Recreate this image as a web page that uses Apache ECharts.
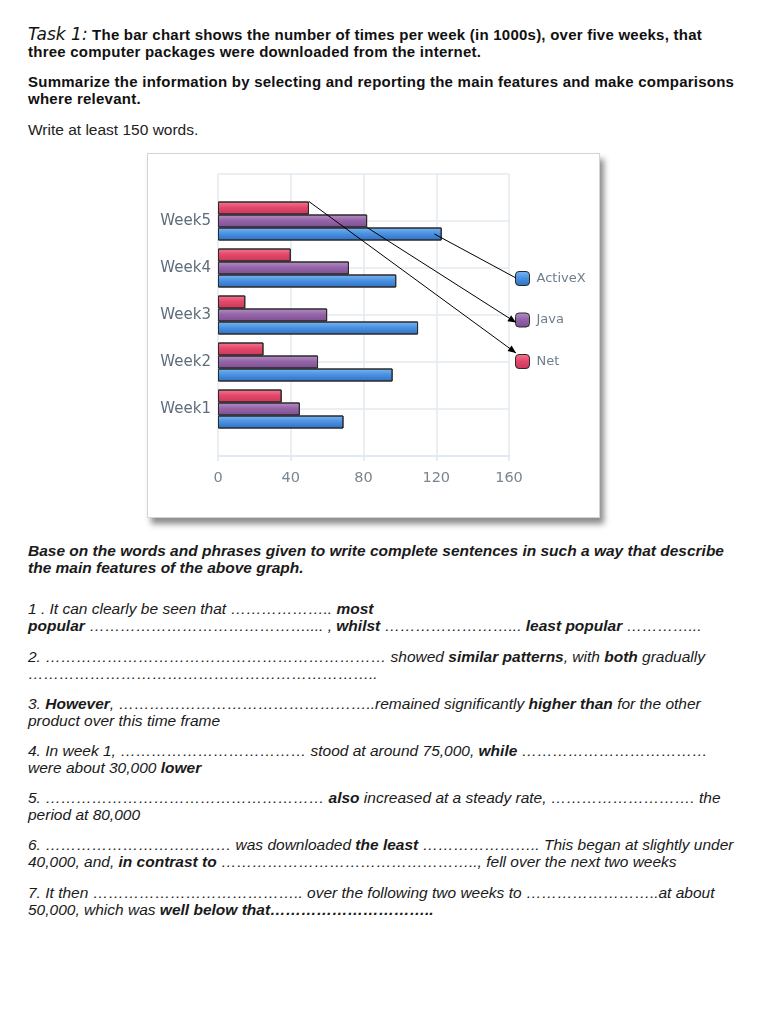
<!DOCTYPE html>
<html>
<head>
<meta charset="utf-8">
<script src="https://cdn.jsdelivr.net/npm/echarts@6/dist/echarts.min.js"></script>
<style>
  html, body { margin: 0; padding: 0; background: #fff; }
  body { width: 768px; height: 1024px; position: relative; overflow: hidden;
         font-family: "Liberation Sans", Arial, sans-serif; color: #111; }
  .p { position: absolute; left: 28px; font-size: 15.5px; line-height: 17px; white-space: nowrap; }
  .h { font-weight: bold; font-size: 15px; letter-spacing: 0.24px; }
  .task { font-family: "DejaVu Sans", sans-serif; font-style: italic; font-weight: normal; font-size: 17px; letter-spacing: 0; }
  .it { font-style: italic; color: #1a1a1a; }
  b { font-weight: bold; }
  #chart { position: absolute; left: 147px; top: 153px; width: 453px; height: 365px;
           border: 1px solid #d4d4d4; box-sizing: border-box; background: #fff;
           box-shadow: 4px 6px 6px rgba(0,0,0,0.45); }
</style>
</head>
<body>
<div class="p h" style="top:26px"><span class="task">Task 1:</span> The bar chart shows the number of times per week (in 1000s), over five weeks, that<br>three computer packages were downloaded from the internet.</div>
<div class="p h" style="top:73px">Summarize the information by selecting and reporting the main features and make comparisons<br>where relevant.</div>
<div class="p" style="top:121px; color:#222">Write at least 150 words.</div>

<div id="chart"></div>

<div class="p it" style="top:542px; font-weight:bold">Base on the words and phrases given to write complete sentences in such a way that describe<br>the main features of the above graph.</div>

<div class="p it" style="top:600px">1 . It can clearly be seen that ……………….. <b>most</b><br><b>popular</b> …………………………………….... , <b>whilst</b> ……………………... <b>least popular</b> …………...</div>
<div class="p it" style="top:648px">2. ………………………………………………………… showed <b>similar patterns</b>, with <b>both</b> gradually<br>…………………………………………………………..</div>
<div class="p it" style="top:695px">3. <b>However</b>, …………………………………………..remained significantly <b>higher than</b> for the other<br>product over this time frame</div>
<div class="p it" style="top:742px">4. In week 1, ……………………………… stood at around 75,000, <b>while</b> ………………………………<br>were about 30,000 <b>lower</b></div>
<div class="p it" style="top:789px">5. ……………………………………………… <b>also</b> increased at a steady rate, ………………………. the<br>period at 80,000</div>
<div class="p it" style="top:836px">6. ……………………………… was downloaded <b>the least</b> ………………….. This began at slightly under<br>40,000, and, <b>in contrast to</b> ………………………………………….., fell over the next two weeks</div>
<div class="p it" style="top:884px">7. It then …………………………………..  over the following two weeks to ……………………..at about<br>50,000, which was <b>well below that…………………………..</b></div>

<script>
// ---- data ----
const weeks = ['Week1', 'Week2', 'Week3', 'Week4', 'Week5'];
const activeX = [69, 96, 110, 98, 123];
const java = [45, 55, 60, 72, 82];
const net = [35, 25, 15, 40, 50];
const xTicks = [0, 40, 80, 120, 160];
const legendNames = ['ActiveX', 'Java', 'Net'];

// ---- chart ----
const chart = echarts.init(document.getElementById('chart'));
const pad = arr => ['-'].concat(arr).concat(['-']);
const axisCats = [''].concat(weeks).concat(['']);
const grad = (a, b, c) => new echarts.graphic.LinearGradient(0, 0, 0, 1, [
  { offset: 0, color: a }, { offset: 0.45, color: b }, { offset: 1, color: c }]);

const GRID = { left: 70, top: 20, width: 291, height: 282 };
const LEG = { left: 367, top: 117, size: 14, gap: 26.5 };

const barCommon = {
  type: 'bar', barWidth: 13, barGap: '0%',
  itemStyle: { borderColor: '#2a2a2a', borderWidth: 1 },
  emphasis: { disabled: true }
};

chart.setOption({
  animation: false,
  textStyle: { fontFamily: 'DejaVu Sans, sans-serif' },
  grid: GRID,
  legend: {
    data: legendNames, orient: 'vertical', left: LEG.left, top: LEG.top, padding: 0,
    itemWidth: LEG.size, itemHeight: LEG.size, itemGap: LEG.gap, icon: 'roundRect',
    textStyle: { color: '#6f7d8a', fontSize: 13, padding: [0, 0, 0, 2] },
    itemStyle: { borderColor: '#2a2a2a', borderWidth: 1 }
  },
  xAxis: {
    type: 'value', min: xTicks[0], max: xTicks[xTicks.length - 1], interval: xTicks[1] - xTicks[0],
    axisLine: { show: true, lineStyle: { color: '#dfe7ee', width: 1.5 } },
    axisTick: { show: true, length: 5, lineStyle: { color: '#dfe7ee', width: 1.5 } },
    axisLabel: { color: '#7a8591', fontSize: 14.5, margin: 15 },
    splitLine: { show: true, lineStyle: { color: '#e3eaf0', width: 1.5 } }
  },
  yAxis: {
    type: 'category', data: axisCats, boundaryGap: false,
    axisLine: { show: false }, axisTick: { show: false },
    axisLabel: { color: '#5e6d7b', fontSize: 15, margin: 7 },
    splitLine: { show: true, lineStyle: { color: '#e3eaf0', width: 1.5 } }
  },
  series: [
    Object.assign({}, barCommon, { name: 'Net', data: pad(net),
      itemStyle: Object.assign({}, barCommon.itemStyle, { color: grad('#f47a92', '#e5486b', '#c8385a') }) }),
    Object.assign({}, barCommon, { name: 'Java', data: pad(java),
      itemStyle: Object.assign({}, barCommon.itemStyle, { color: grad('#b690c6', '#9565a8', '#7c4f92') }) }),
    Object.assign({}, barCommon, { name: 'ActiveX', data: pad(activeX),
      itemStyle: Object.assign({}, barCommon.itemStyle, { color: grad('#7cb6f2', '#4b93e3', '#2f6fc2') }) })
  ]
});

// ---- annotation arrows from week-5 bar ends to the legend icons ----
const last = weeks.length - 1;
function barEnd(value, offset) {
  const p = chart.convertToPixel({ xAxisIndex: 0, yAxisIndex: 0 }, [value, weeks[last]]);
  return [p[0], p[1] + offset];
}
function arrow(from, to, head) {
  const els = [{ type: 'line', shape: { x1: from[0], y1: from[1], x2: to[0], y2: to[1] },
    style: { stroke: '#000', lineWidth: 1 }, z: 100 }];
  if (head) {
    const dx = to[0] - from[0], dy = to[1] - from[1], L = Math.hypot(dx, dy);
    const ux = dx / L, uy = dy / L, hl = 8, hw = 3.5;
    const bx = to[0] - ux * hl, by = to[1] - uy * hl;
    els.push({ type: 'polygon', shape: { points: [to, [bx - uy * hw, by + ux * hw], [bx + uy * hw, by - ux * hw]] },
      style: { fill: '#000' }, z: 100 });
  }
  return els;
}
const iconX = LEG.left + 1;
const iconY = i => LEG.top + i * (LEG.size + LEG.gap);
const g = []
  .concat(arrow(barEnd(activeX[last] - 4, 13), [iconX, iconY(0) + 7], false))
  .concat(arrow(barEnd(java[last], 6.5), [iconX, iconY(1) + 11], true))
  .concat(arrow(barEnd(net[last], -19.5), [iconX, iconY(2) + 1], true));
chart.setOption({ graphic: g });
</script>
</body>
</html>
